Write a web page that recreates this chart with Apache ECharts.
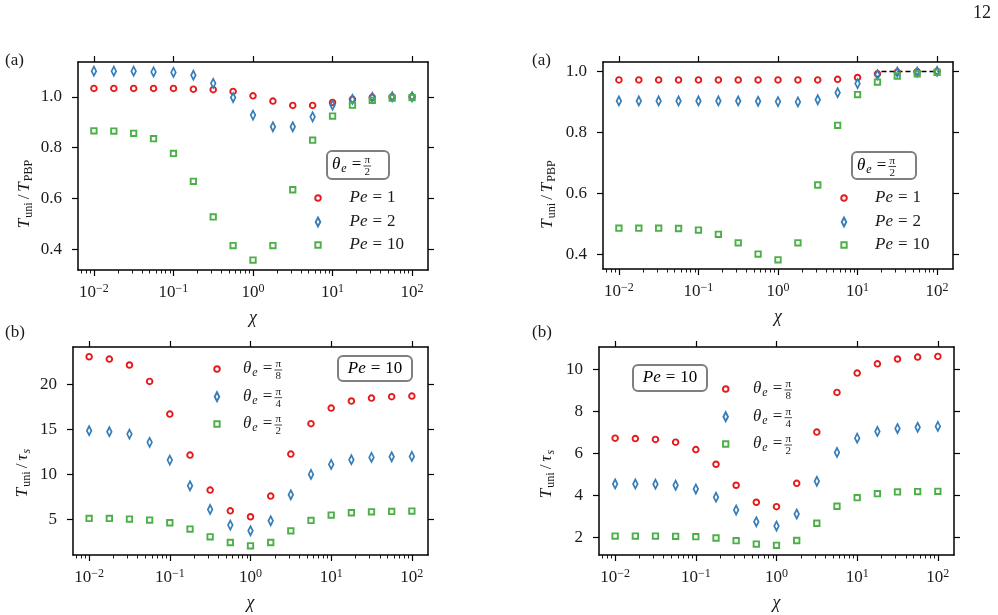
<!DOCTYPE html>
<html><head><meta charset="utf-8">
<script src="https://cdn.jsdelivr.net/npm/echarts@6/dist/echarts.min.js"></script>
<style>html,body{margin:0;padding:0;background:#fff}#c{width:998px;height:615px}</style>
</head><body><div id="c"></div>
<script>
// ---------------- data ----------------
const chi = [0.01, 0.0178, 0.0316, 0.0562, 0.1, 0.178, 0.316, 0.562, 1, 1.78, 3.16, 5.62, 10, 17.8, 31.6, 56.2, 100];

// (a) left: T_uni/T_PBP, theta_e = pi/2
const a1Pe1  = [1.033,1.033,1.033,1.033,1.033,1.030,1.028,1.021,1.004,0.983,0.966,0.966,0.978,0.990,0.998,1.000,1.000];
const a1Pe2  = [1.101,1.101,1.101,1.098,1.096,1.085,1.053,0.997,0.928,0.882,0.882,0.921,0.967,0.990,0.998,1.000,1.000];
const a1Pe10 = [0.866,0.865,0.856,0.835,0.777,0.667,0.527,0.414,0.357,0.414,0.634,0.829,0.924,0.967,0.986,0.995,0.997];
// (a) right
const a2Pe1  = [0.972,0.972,0.972,0.972,0.972,0.972,0.972,0.972,0.972,0.972,0.972,0.974,0.980,0.992,0.998,0.999,1.000];
const a2Pe2  = [0.903,0.903,0.903,0.903,0.903,0.903,0.903,0.902,0.901,0.900,0.907,0.930,0.960,0.989,0.998,0.998,1.000];
const a2Pe10 = [0.485,0.485,0.485,0.484,0.479,0.465,0.437,0.400,0.381,0.437,0.627,0.823,0.924,0.965,0.985,0.992,0.997];
const a2RefX = [20, 105];
const a2RefY = [1.0, 1.0];
// (b) left: T_uni/tau_s, Pe = 10
const b1Pi8 = [23.07,22.81,22.15,20.33,16.70,12.15,8.26,5.96,5.30,7.59,12.26,15.63,17.37,18.15,18.48,18.63,18.70];
const b1Pi4 = [14.85,14.74,14.48,13.56,11.59,8.74,6.11,4.37,3.74,4.85,7.74,10.00,11.11,11.63,11.89,11.96,12.00];
const b1Pi2 = [5.11,5.11,5.04,4.93,4.63,3.93,3.07,2.44,2.07,2.44,3.74,4.89,5.48,5.74,5.85,5.89,5.93];
// (b) right
const b2Pi8 = [6.71,6.69,6.65,6.52,6.17,5.47,4.47,3.66,3.45,4.56,7.00,8.89,9.81,10.25,10.48,10.57,10.60];
const b2Pi4 = [4.53,4.53,4.52,4.47,4.29,3.90,3.29,2.73,2.53,3.10,4.66,6.03,6.71,7.03,7.17,7.23,7.27];
const b2Pi2 = [2.05,2.05,2.05,2.04,2.02,1.96,1.83,1.67,1.61,1.84,2.66,3.47,3.88,4.07,4.15,4.17,4.18];

// ticks / labels
const xMajor = [0.01, 0.1, 1, 10, 100];
const xMajorExp = ['\u22122', '\u22121', '0', '1', '2'];
const xMinor = [0.007,0.008,0.009,0.02,0.03,0.04,0.05,0.06,0.07,0.08,0.09,0.2,0.3,0.4,0.5,0.6,0.7,0.8,0.9,2,3,4,5,6,7,8,9,20,30,40,50,60,70,80,90];
const yTicksA = [0.4, 0.6, 0.8, 1.0];
const yLabelsA = ['0.4', '0.6', '0.8', '1.0'];
const yTicksB1 = [5, 10, 15, 20];
const yLabelsB1 = ['5', '10', '15', '20'];
const yTicksB2 = [2, 4, 6, 8, 10];
const yLabelsB2 = ['2', '4', '6', '8', '10'];
const legendPe = ['1', '2', '10'];
const legendTheta = ['8', '4', '2'];

// ---------------- styling / layout ----------------
const F = '"Liberation Serif", "DejaVu Serif", serif';
const TC = '#1a1a1a';
const COLORS = ['#e41a1c', '#377eb8', '#4daf4a'];
const XMIN = Math.pow(10, -2.2), XMAX = Math.pow(10, 2.2);
const FS = 17, SS = 12, EQP = 5;

const mctx = document.createElement('canvas').getContext('2d');
function tw(t, size, italic) { mctx.font = (italic ? 'italic ' : '') + size + 'px ' + F; return mctx.measureText(t).width; }

const richT = {
  i: {fontFamily: F, fontStyle: 'italic', fontSize: FS, color: TC, lineHeight: 20},
  n: {fontFamily: F, fontSize: FS, color: TC, lineHeight: 20},
  sl: {fontFamily: F, fontSize: FS, color: TC, lineHeight: 20, padding: [0, 3, 0, 3]},
  eq: {fontFamily: F, fontSize: FS, color: TC, lineHeight: 20, padding: [0, EQP, 0, EQP]},
  sub: {fontFamily: F, fontSize: SS, color: TC, lineHeight: 11, verticalAlign: 'bottom', padding: [0, 0, 0, 1]},
  subi: {fontFamily: F, fontStyle: 'italic', fontSize: SS, color: TC, lineHeight: 11, verticalAlign: 'bottom', padding: [0, 0, 0, 1]},
  b: {fontFamily: F, fontSize: FS, color: TC, lineHeight: 20},
  s: {fontFamily: F, fontSize: 12, color: TC, lineHeight: 9, verticalAlign: 'top'}
};
const thetaW = tw('\u03B8', FS, true) + 1 + tw('e', SS, true) + tw('=', FS, false) + 2 * EQP;

const panels = [
  {grid: {left: 78, top: 62, width: 350, height: 208}, ymin: 0.318, ymax: 1.137, yt: yTicksA, yl: yLabelsA,
   yname: '{i|T}{sub|uni}{sl|/}{i|T}{sub|PBP}', ygap: 43, yshift: 28, data: [a1Pe1, a1Pe2, a1Pe10], kind: 'pe',
   leg: {mx: 318, tx: 349.5, rows: [198, 222, 245]}},
  {grid: {left: 603, top: 62, width: 350, height: 207}, ymin: 0.351, ymax: 1.031, yt: yTicksA, yl: yLabelsA,
   yname: '{i|T}{sub|uni}{sl|/}{i|T}{sub|PBP}', ygap: 45, yshift: 29, data: [a2Pe1, a2Pe2, a2Pe10], kind: 'pe',
   leg: {mx: 844, tx: 875, rows: [198, 222, 245]}},
  {grid: {left: 73, top: 347, width: 355, height: 208}, ymin: 1.05, ymax: 24.15, yt: yTicksB1, yl: yLabelsB1,
   yname: '{i|T}{sub|uni}{sl|/}{i|\u03C4}{subi|s}', ygap: 40, yshift: 22, data: [b1Pi8, b1Pi4, b1Pi2], kind: 'th',
   leg: {mx: 217, tx: 243, rows: [369, 396.7, 424]}},
  {grid: {left: 599, top: 347, width: 355, height: 208}, ymin: 1.15, ymax: 11.05, yt: yTicksB2, yl: yLabelsB2,
   yname: '{i|T}{sub|uni}{sl|/}{i|\u03C4}{subi|s}', ygap: 42, yshift: 23, data: [b2Pi8, b2Pi4, b2Pi2], kind: 'th',
   leg: {mx: 725.7, tx: 753, rows: [389, 416.7, 444]}}
];

const SYMBOLS = ['circle', 'diamond', 'rect'];
const SIZES = [5.6, [4.6, 9], 5.4];
const LEG_ICONS = ['circle', 'path://M2.3,0L4.6,4.5L2.3,9L0,4.5Z', 'path://M0,0L10,0L10,10L0,10Z'];
const LEG_H = [5.6, 9, 5.4];
const LEG_W = [5.6, 4.6, 5.4];
const BW = 1.9;

const grids = [], xAxes = [], yAxes = [], series = [], legends = [], graphics = [];
const axisLineStyle = {color: '#000', width: 1.5};
const majTick = {color: '#000', width: 1.2};

panels.forEach((p, pi) => {
  grids.push(Object.assign({containLabel: false}, p.grid));
  xAxes.push({type: 'log', logBase: 10, gridIndex: pi, min: XMIN, max: XMAX, position: 'bottom',
    axisLine: {show: true, onZero: false, lineStyle: axisLineStyle},
    axisTick: {show: true, inside: false, length: 6, lineStyle: majTick, customValues: xMajor},
    axisLabel: {show: true, customValues: xMajor, margin: 13, rich: richT,
      formatter: v => { let k = xMajor.findIndex(t => Math.abs(Math.log10(t) - Math.log10(v)) < 1e-6); return '{b|10}{s|' + xMajorExp[k] + '}'; }},
    splitLine: {show: false}, minorTick: {show: false},
    name: '\u03C7', nameLocation: 'middle', nameGap: 38,
    nameTextStyle: {fontFamily: F, fontStyle: 'italic', fontSize: 18, color: TC, lineHeight: 20}});
  xAxes.push({type: 'log', logBase: 10, gridIndex: pi, min: XMIN, max: XMAX, position: 'bottom',
    axisLine: {show: false, onZero: false},
    axisTick: {show: true, inside: false, length: 3.5, lineStyle: {color: '#000', width: 0.9}, customValues: xMinor},
    axisLabel: {show: false}, splitLine: {show: false}});
  xAxes.push({type: 'log', logBase: 10, gridIndex: pi, min: XMIN, max: XMAX, position: 'top',
    axisLine: {show: true, onZero: false, lineStyle: axisLineStyle},
    axisTick: {show: true, inside: false, length: 6, lineStyle: majTick, customValues: xMajor},
    axisLabel: {show: false}, splitLine: {show: false}});
  yAxes.push({type: 'value', gridIndex: pi, min: p.ymin, max: p.ymax, position: 'left',
    axisLine: {show: true, onZero: false, lineStyle: axisLineStyle},
    axisTick: {show: true, inside: false, length: 6, lineStyle: majTick, customValues: p.yt},
    axisLabel: {show: true, customValues: p.yt, margin: 16, fontFamily: F, fontSize: FS, color: TC,
      formatter: v => { let k = p.yt.findIndex(t => Math.abs(t - v) < 1e-6); return k >= 0 ? p.yl[k] : ''; }},
    splitLine: {show: false},
    name: p.yname, nameLocation: 'middle', nameRotate: 90, nameGap: p.ygap,
    nameTextStyle: {rich: richT, lineHeight: 20, padding: [0, 2 * p.yshift, 0, 0]}});
  yAxes.push({type: 'value', gridIndex: pi, min: p.ymin, max: p.ymax, position: 'right',
    axisLine: {show: true, onZero: false, lineStyle: axisLineStyle},
    axisTick: {show: true, inside: false, length: 6, lineStyle: majTick, customValues: p.yt},
    axisLabel: {show: false}, splitLine: {show: false}});

  if (pi === 1) {
    series.push({type: 'line', name: 'ref', xAxisIndex: 3 * pi, yAxisIndex: 2 * pi, symbol: 'none',
      data: a2RefX.map((x, k) => [x, a2RefY[k]]), lineStyle: {color: '#000', width: 1.5, type: [5, 3]}, z: 1, silent: true});
  }
  p.data.forEach((arr, si) => {
    const name = 'p' + pi + 's' + si;
    series.push({type: 'scatter', name, xAxisIndex: 3 * pi, yAxisIndex: 2 * pi,
      symbol: SYMBOLS[si], symbolSize: SIZES[si],
      itemStyle: {color: 'rgba(0,0,0,0)', borderColor: COLORS[si], borderWidth: BW, opacity: 1},
      data: chi.map((x, k) => [x, arr[k]]), z: 2 + si});
    const W = 2 * (p.leg.tx - p.leg.mx - 5);
    const row = p.leg.rows[si];
    const txt = p.kind === 'pe' ? '{i|Pe}{eq|=}{n|' + legendPe[si] + '}' : '{i|\u03B8}{subi|e}{eq|=}';
    legends.push({data: [{name, icon: LEG_ICONS[si]}], orient: 'vertical', left: p.leg.mx - LEG_W[si] / 2 - BW / 2, top: row - 10,
      itemWidth: W, itemHeight: LEG_H[si], itemGap: 0, padding: 0, selectedMode: false, symbolKeepAspect: true,
      itemStyle: {color: 'rgba(0,0,0,0)', borderColor: COLORS[si], borderWidth: BW},
      formatter: () => txt, textStyle: {rich: richT, lineHeight: 20}});
    if (p.kind === 'th') graphics.push(...frac(p.leg.tx + thetaW + 1, row + 1, legendTheta[si]));
  });
});

function frac(cx, cy, den) {
  return [
    {type: 'text', x: cx, y: cy - 5.5, style: {text: '\u03C0', font: '11px ' + F, fill: TC, textAlign: 'center', textVerticalAlign: 'middle', verticalAlign: 'middle'}},
    {type: 'line', shape: {x1: cx - 3.8, y1: cy, x2: cx + 3.8, y2: cy}, style: {stroke: TC, lineWidth: 0.8}},
    {type: 'text', x: cx, y: cy + 6.2, style: {text: den, font: '11px ' + F, fill: TC, textAlign: 'center', textVerticalAlign: 'middle', verticalAlign: 'middle'}}
  ];
}
function label(t, x, y, size, align) {
  return {type: 'text', x, y, style: {text: t, font: size + 'px ' + F, fill: TC, textAlign: align || 'left', textVerticalAlign: 'middle', verticalAlign: 'middle'}};
}
function box(x, y, w, h) {
  return {type: 'rect', shape: {x, y, width: w, height: h, r: 5}, style: {fill: '#fff', stroke: '#7f7f7f', lineWidth: 2}, z: 10};
}
function thetaTitle(x, y) {
  const els = [{type: 'text', x, y, z: 11, style: {text: '{i|\u03B8}{subi|e}{eq|=}', rich: richT, textAlign: 'left', textVerticalAlign: 'middle', verticalAlign: 'middle'}}];
  frac(x + thetaW + 1, y + 1, '2').forEach(e => { e.z = 11; els.push(e); });
  return els;
}
function peBox(cx, cy) {
  return {type: 'text', x: cx, y: cy, z: 11, style: {text: '{i|Pe}{eq|=}{n|10}', rich: richT, textAlign: 'center', textVerticalAlign: 'middle', verticalAlign: 'middle'}};
}

graphics.push(label('(a)', 5, 61, 17), label('(a)', 532, 61, 17), label('(b)', 5, 333, 17), label('(b)', 532, 333, 17),
  label('12', 973, 13, 18));
graphics.push(box(327, 151, 62, 28), ...thetaTitle(332, 165));
graphics.push(box(852, 152, 64, 27), ...thetaTitle(857, 165.5));
graphics.push(box(338, 356, 74, 25), peBox(375, 368.5));
graphics.push(box(633, 365, 74, 26), peBox(670, 378));

const chart = echarts.init(document.getElementById('c'), null, {renderer: 'canvas'});
chart.setOption({
  animation: false,
  backgroundColor: '#fff',
  grid: grids, xAxis: xAxes, yAxis: yAxes, series, legend: legends, graphic: graphics
});
</script></body></html>
